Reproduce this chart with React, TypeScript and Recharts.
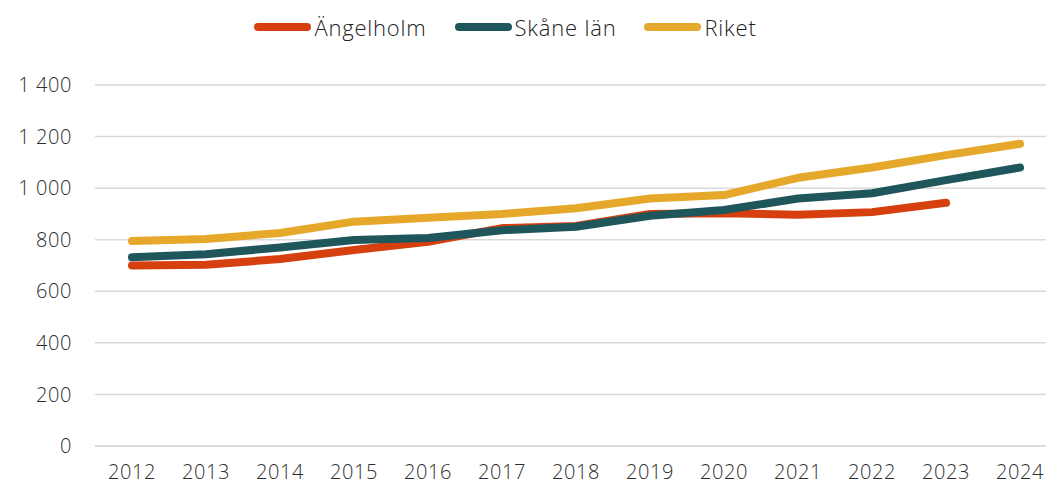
import { LineChart, Line, XAxis, YAxis, CartesianGrid, Legend } from "recharts";

const years = ["2012", "2013", "2014", "2015", "2016", "2017", "2018", "2019", "2020", "2021", "2022", "2023", "2024"];
const angelholm = [700, 703, 725, 760, 792, 845, 853, 900, 903, 897, 907, 943, null];
const skane = [732, 744, 770, 799, 807, 837, 850, 893, 915, 960, 980, 1031, 1080];
const riket = [795, 803, 826, 870, 885, 900, 922, 960, 973, 1040, 1080, 1128, 1172];
const yTicks = [0, 200, 400, 600, 800, 1000, 1200, 1400];

const series = [
  { key: "Ängelholm", color: "#D6400F" },
  { key: "Skåne län", color: "#1F565B" },
  { key: "Riket", color: "#E5A82A" },
];

const data = years.map((year, i) => ({
  year,
  "Ängelholm": angelholm[i],
  "Skåne län": skane[i],
  Riket: riket[i],
}));

const font = "'Open Sans', sans-serif";
const textColor = "#2e2e2e";

const fmt = (v: number) => String(v).replace(/\B(?=(\d{3})+(?!\d))/g, " ");

const LegendContent = () => (
  <div
    style={{
      height: 85,
      display: "flex",
      justifyContent: "center",
      alignItems: "flex-start",
      paddingTop: 14,
      boxSizing: "border-box",
      fontFamily: font,
      fontWeight: 300,
      fontSize: 22,
      letterSpacing: 0.8,
      color: "#222",
      paddingRight: 18,
    }}
  >
    {series.map((s) => (
      <div key={s.key} style={{ display: "flex", alignItems: "center", marginRight: 28 }}>
        <span
          style={{
            display: "inline-block",
            width: 57,
            height: 8,
            borderRadius: 4,
            background: s.color,
            marginRight: 3,
          }}
        />
        <span style={{ lineHeight: "26px" }}>{s.key}</span>
      </div>
    ))}
  </div>
);

const tickStyle = { fontSize: 20, fill: textColor, fontFamily: font, fontWeight: 300, letterSpacing: 0.6 };

export default function App() {
  return (
    <div style={{ position: "absolute", left: 0, top: 0, width: 1046, height: 486, overflow: "hidden", background: "#fff" }}>
      <LineChart width={1057} height={486} data={data} margin={{ top: 0, right: 0, bottom: 0, left: 0 }}>
        <CartesianGrid vertical={false} stroke="#d9d9d9" strokeWidth={1.5} />
        <XAxis
          dataKey="year"
          axisLine={{ stroke: "#d9d9d9", strokeWidth: 1.5 }}
          tickLine={false}
          tickSize={0}
          tickMargin={19}
          height={40}
          interval={0}
          padding={{ left: 37, right: 37 }}
          tick={tickStyle}
        />
        <YAxis
          width={95}
          domain={[0, 1400]}
          ticks={yTicks}
          axisLine={false}
          tickLine={false}
          tickSize={0}
          tickMargin={23}
          tickFormatter={fmt}
          tick={tickStyle}
        />
        <Legend verticalAlign="top" align="center" content={<LegendContent />} />
        {series.map((s) => (
          <Line
            key={s.key}
            type="linear"
            dataKey={s.key}
            stroke={s.color}
            strokeWidth={8}
            strokeLinecap="round"
            strokeLinejoin="round"
            dot={false}
            activeDot={false}
            isAnimationActive={false}
          />
        ))}
      </LineChart>
    </div>
  );
}
